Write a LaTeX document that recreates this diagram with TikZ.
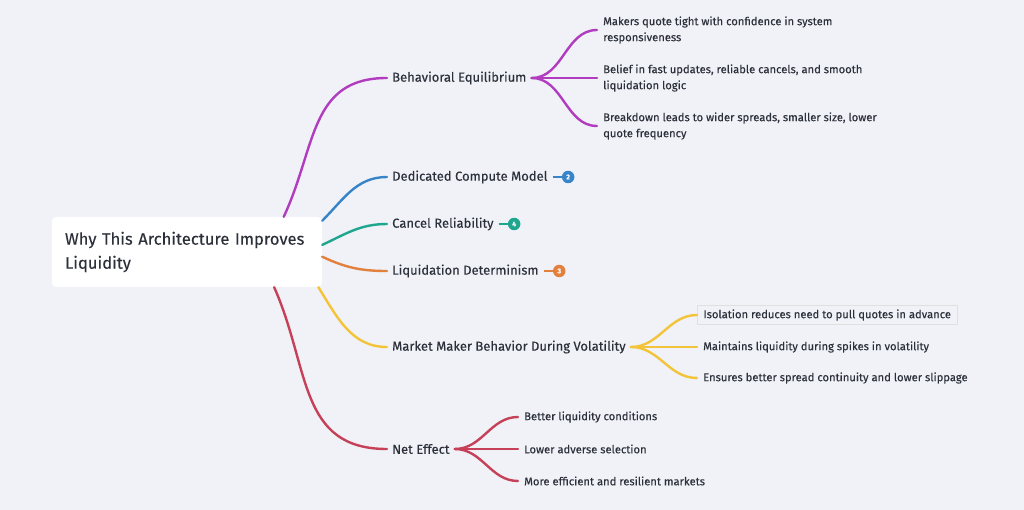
\documentclass[tikz,border=0pt]{standalone}
\usepackage{fontspec}
\setmainfont{Fira Sans}[FakeBold=0.2]
\usetikzlibrary{positioning}

\definecolor{bgcol}{RGB}{240,242,247}
\definecolor{txtcol}{RGB}{44,48,58}
\definecolor{cpurple}{RGB}{178,60,192}
\definecolor{cblue}{RGB}{56,132,200}
\definecolor{cteal}{RGB}{30,166,142}
\definecolor{corange}{RGB}{226,128,62}
\definecolor{cyellow}{RGB}{243,196,58}
\definecolor{cred}{RGB}{198,64,88}

\begin{document}
\begin{tikzpicture}[
    x=1pt, y=-1pt,
    rootbox/.style={fill=white, rounded corners=4pt, minimum width=270pt, minimum height=70pt,
        text width=244pt, inner xsep=13pt, align=left, font=\fontsize{16.6}{24}\selectfont, text=txtcol},
    topic/.style={anchor=west, inner xsep=5pt, inner ysep=2pt, font=\fontsize{13}{15}\selectfont, text=txtcol},
    leaf/.style={anchor=west, inner xsep=6pt, inner ysep=2pt, align=left,
        font=\fontsize{11.2}{16}\selectfont, text=txtcol},
    badge/.style={circle, fill=#1, text=white, inner sep=0pt, minimum size=12.5pt,
        font=\fontsize{7}{7}\selectfont\bfseries},
    branch/.style={draw=#1, line width=2.4pt, line cap=round},
    stub/.style={draw=#1, line width=2pt}
]
    \useasboundingbox[fill=bgcol] (0,0) rectangle (1024,510);

    \node[rootbox] (root) at (187,252) {Why This Architecture Improves\\Liquidity};

    % main topics
    \node[topic] (beq) at (387,78) {Behavioral Equilibrium};
    \node[topic] (dcm) at (387,177) {Dedicated Compute Model};
    \node[topic] (crl) at (387,224) {Cancel Reliability};
    \node[topic] (ldt) at (387,271) {Liquidation Determinism};
    \node[topic] (mmb) at (387,347) {Market Maker Behavior During Volatility};
    \node[topic] (net) at (387,449) {Net Effect};

    \draw[branch=cpurple] (root.20.6) to[out=65, in=180, looseness=1.15] (beq.west);
    \draw[branch=cblue] (root.13) to[out=45, in=180] (dcm.west);
    \draw[branch=cteal] (root.3.8) to[out=25, in=180] (crl.west);
    \draw[branch=corange] (root.-2) to[out=-25, in=180] (ldt.west);
    \draw[branch=cyellow] (root.-15.7) to[out=-58, in=180] (mmb.west);
    \draw[branch=cred] (root.-22.9) to[out=-66, in=180, looseness=1.15] (net.west);

    % collapsed counts
    \node[badge=cblue, right=9pt of dcm] (dcmn) {2};
    \node[badge=cteal, right=9pt of crl] (crln) {4};
    \node[badge=corange, right=9pt of ldt] (ldtn) {3};
    \draw[stub=cblue] (dcm.east) -- (dcmn);
    \draw[stub=cteal] (crl.east) -- (crln);
    \draw[stub=corange] (ldt.east) -- (ldtn);

    % behavioral equilibrium
    \node[leaf] (beq1) at (597,30) {Makers quote tight with confidence in system\\responsiveness};
    \node[leaf] (beq2) at (597,78) {Belief in fast updates, reliable cancels, and smooth\\liquidation logic};
    \node[leaf] (beq3) at (597,126) {Breakdown leads to wider spreads, smaller size, lower\\quote frequency};
    \foreach \l in {beq1,beq2,beq3}
        \draw[branch=cpurple] (beq.east) to[out=0, in=180] (\l.west);

    % market maker behavior
    \node[leaf, draw=black!12, line width=0.8pt, minimum height=19pt] (mmb1) at (697,315) {Isolation reduces need to pull quotes in advance};
    \node[leaf] (mmb2) at (697,347) {Maintains liquidity during spikes in volatility};
    \node[leaf] (mmb3) at (697,378) {Ensures better spread continuity and lower slippage};
    \foreach \l in {mmb1,mmb2,mmb3}
        \draw[branch=cyellow] (mmb.east) to[out=0, in=180] (\l.west);

    % net effect
    \node[leaf] (net1) at (518,417) {Better liquidity conditions};
    \node[leaf] (net2) at (518,449) {Lower adverse selection};
    \node[leaf] (net3) at (518,481) {More efficient and resilient markets};
    \foreach \l in {net1,net2,net3}
        \draw[branch=cred] (net.east) to[out=0, in=180] (\l.west);
\end{tikzpicture}
\end{document}
